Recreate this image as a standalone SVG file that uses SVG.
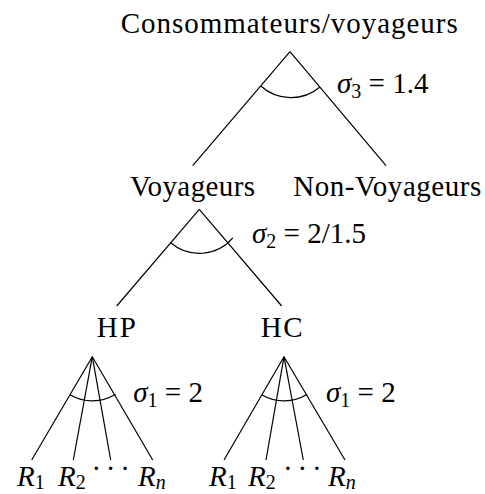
<svg xmlns="http://www.w3.org/2000/svg" width="485" height="494" viewBox="0 0 485 494" font-family="'Liberation Serif', 'Times New Roman', serif">
<style>
text{font-family:'Liberation Serif', 'Times New Roman', serif;font-size:29px;fill:#000}
.it{font-style:italic}
.sub{font-size:20px}
.c line,.c path{stroke:#000;stroke-width:1.2;fill:none}
</style>
<rect width="485" height="494" fill="#fff"/>
<g id="connectors" class="c">
<line x1="290" y1="51.7" x2="192.7" y2="165.7"/>
<line x1="290" y1="51.7" x2="386" y2="165.7"/>
<path d="M260.8 86 A45 45 0 0 0 320 87"/>
<line x1="199.3" y1="209.3" x2="116.7" y2="306"/>
<line x1="199.3" y1="209.3" x2="281.7" y2="306"/>
<path d="M170.7 242.8 A44 44 0 0 0 232.8 237.9"/>
<line x1="92.3" y1="356.7" x2="31.7" y2="460"/>
<line x1="92.3" y1="356.7" x2="73.3" y2="460"/>
<line x1="92.3" y1="356.7" x2="110.7" y2="460"/>
<line x1="92.3" y1="356.7" x2="152.7" y2="460"/>
<path d="M70 394.7 A44 44 0 0 0 115.5 394.2"/>
<line x1="284" y1="356.7" x2="224" y2="460"/>
<line x1="284" y1="356.7" x2="266" y2="460"/>
<line x1="284" y1="356.7" x2="303.3" y2="460"/>
<line x1="284" y1="356.7" x2="345" y2="460"/>
<path d="M261.7 394.7 A44 44 0 0 0 307.2 394.2"/>
</g>
<g id="root"><text x="120.7" y="33.3" textLength="337" lengthAdjust="spacing">Consommateurs/voyageurs</text></g>
<g id="sigma3"><text x="337" y="93.3"><tspan class="it">σ</tspan><tspan class="sub" dy="5">3</tspan><tspan dy="-5"> = 1.4</tspan></text></g>
<g id="voyageurs"><text x="130" y="196" textLength="125" lengthAdjust="spacing">Voyageurs</text></g>
<g id="non-voyageurs"><text x="293.3" y="196" textLength="188" lengthAdjust="spacing">Non-Voyageurs</text></g>
<g id="sigma2"><text x="252" y="242.7"><tspan class="it">σ</tspan><tspan class="sub" dy="5">2</tspan><tspan dy="-5"> = 2/1.5</tspan></text></g>
<g id="hp"><text x="96.7" y="336.7" textLength="39.3" lengthAdjust="spacing">HP</text></g>
<g id="hc"><text x="260.7" y="336.7" textLength="42" lengthAdjust="spacing">HC</text></g>
<g id="sigma1-hp"><text x="133.3" y="401.7"><tspan class="it">σ</tspan><tspan class="sub" dy="5">1</tspan><tspan dy="-5"> = 2</tspan></text></g>
<g id="sigma1-hc"><text x="326" y="401.7"><tspan class="it">σ</tspan><tspan class="sub" dy="5">1</tspan><tspan dy="-5"> = 2</tspan></text></g>
<g id="hp-leaves">
<text x="17" y="486"><tspan class="it">R</tspan><tspan class="sub" dy="3">1</tspan></text>
<text x="58" y="486"><tspan class="it">R</tspan><tspan class="sub" dy="3">2</tspan></text>
<text x="91.4" y="478" letter-spacing="4.75">···</text>
<text x="138" y="486"><tspan class="it">R</tspan><tspan class="sub it" dy="3">n</tspan></text>
</g>
<g id="hc-leaves">
<text x="209" y="486"><tspan class="it">R</tspan><tspan class="sub" dy="3">1</tspan></text>
<text x="248" y="486"><tspan class="it">R</tspan><tspan class="sub" dy="3">2</tspan></text>
<text x="283.1" y="478" letter-spacing="4.75">···</text>
<text x="328" y="486"><tspan class="it">R</tspan><tspan class="sub it" dy="3">n</tspan></text>
</g>
</svg>
